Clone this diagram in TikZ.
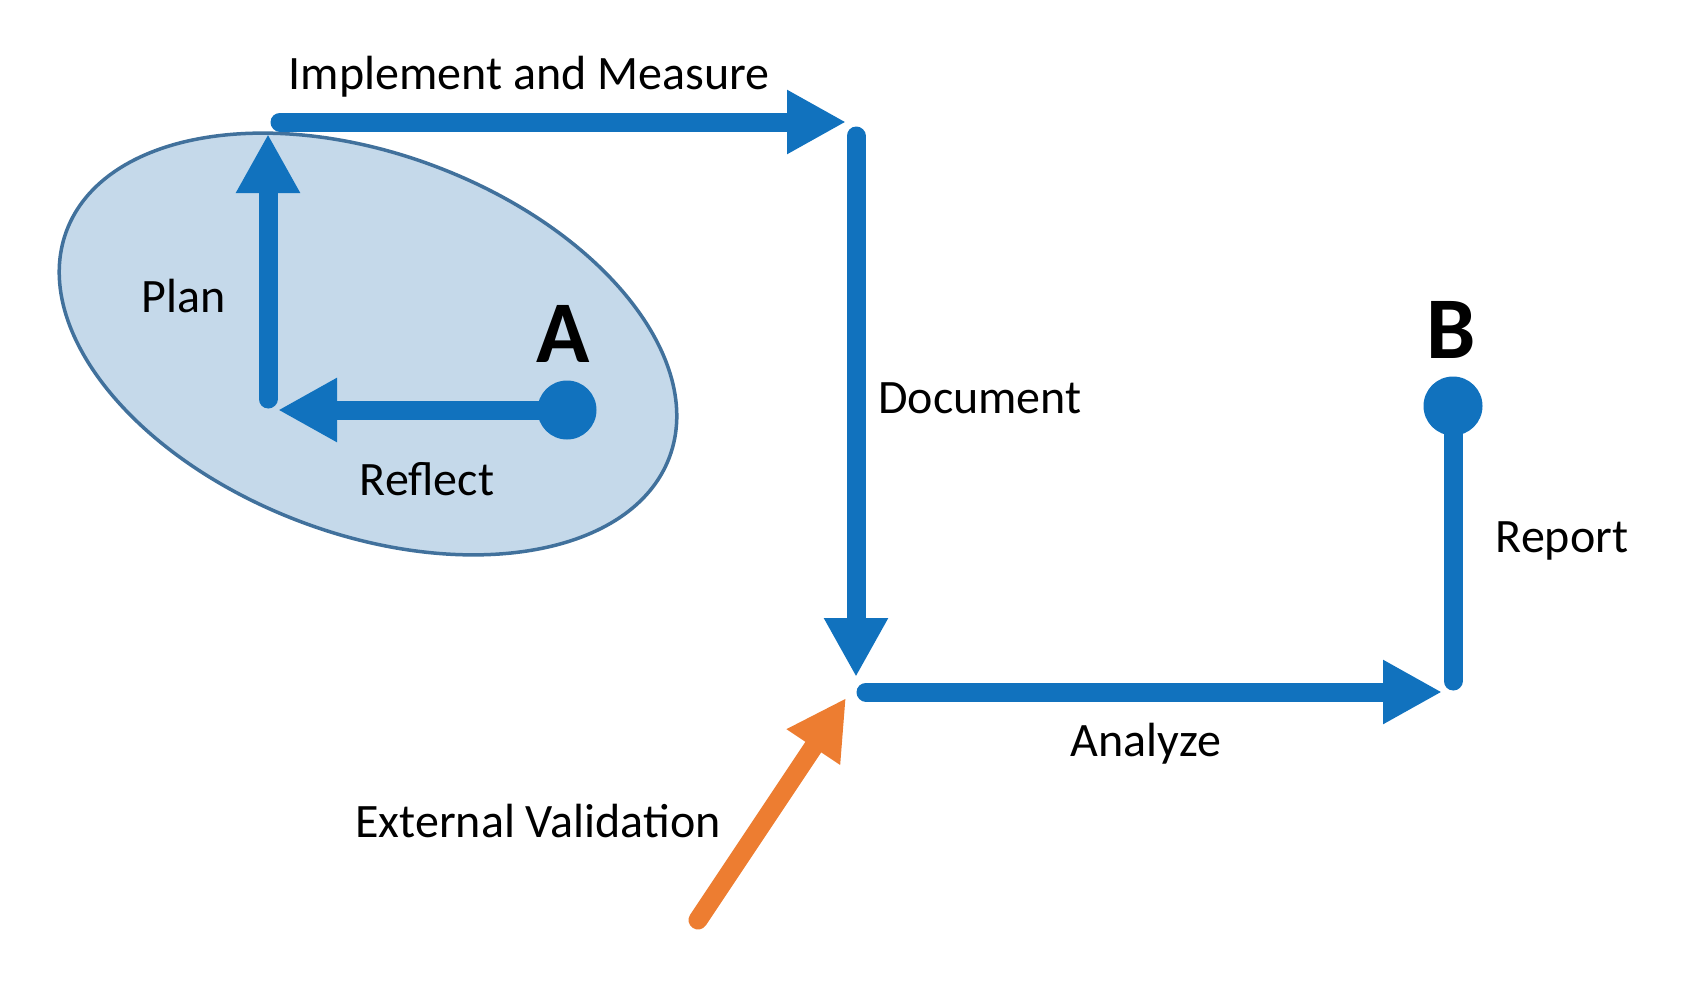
\documentclass[tikz,border=0pt]{standalone}
\usepackage{fontspec}
\setmainfont{Carlito}
\usetikzlibrary{arrows.meta}
\definecolor{myblue}{RGB}{17,114,190}
\definecolor{myorange}{RGB}{237,125,49}
\definecolor{ellfillc}{RGB}{197,217,234}
\definecolor{elldrawc}{RGB}{65,113,156}
\tikzset{
  flow/.style={line width=19pt, line cap=round, -{Triangle[length=59pt,width=60pt]}},
  blueflow/.style={flow, draw=myblue, fill=myblue},
  orangeflow/.style={flow, draw=myorange, fill=myorange},
  plainline/.style={line width=19pt, line cap=round, draw=myblue},
  dot/.style={circle, fill=myblue, minimum size=59pt, inner sep=0pt},
  lbl/.style={anchor=base, inner sep=0pt, font=\fontsize{48}{57}\selectfont},
  biglbl/.style={anchor=base, inner sep=0pt, font=\fontsize{88}{100}\selectfont\bfseries},
  ellstyle/.style={fill=ellfillc, draw=elldrawc, line width=3.5pt}
}
\begin{document}
\begin{tikzpicture}[x=1pt,y=-1pt]
\useasboundingbox (0,0) rectangle (1694,988);
% ellipse
\draw[ellstyle, rotate around={-20.6:(368,344)}] (368,344) ellipse [x radius=322pt, y radius=190pt];
% points
\node[dot] (A) at (567,410) {};
\node[dot] (B) at (1453,406) {};
\coordinate (planS) at (268,399);
\coordinate (planE) at (268,134);
\coordinate (reflE) at (278,410);
\coordinate (implS) at (280,122);
\coordinate (implE) at (846,122);
\coordinate (docS) at (856,136);
\coordinate (docE) at (856,677);
\coordinate (anS) at (866,692);
\coordinate (anE) at (1442,692);
\coordinate (repS) at (1453,681);
\coordinate (extS) at (698,920);
\coordinate (extE) at (846,698);
% arrows
\draw[blueflow] (A.center) -- (reflE);
\draw[blueflow] (planS) -- (planE);
\draw[blueflow] (implS) -- (implE);
\draw[blueflow] (docS) -- (docE);
\draw[blueflow] (anS) -- (anE);
\draw[plainline] (repS) -- (B.center);
\draw[orangeflow] (extS) -- (extE);
% labels
\node[lbl] (limpl) at (529,89) {Implement and Measure};
\node[lbl] (lplan) at (184,312) {Plan};
\node[lbl] (lrefl) at (427,495) {Reflect};
\node[biglbl] (lA) at (563,362) {A};
\node[biglbl] (lB) at (1451,358) {B};
\node[lbl] (ldoc) at (980,413) {Document};
\node[lbl] (lrep) at (1562,552) {Report};
\node[lbl] (lan) at (1146,756) {Analyze};
\node[lbl] (lext) at (538,837) {External Validation};
\end{tikzpicture}
\end{document}
